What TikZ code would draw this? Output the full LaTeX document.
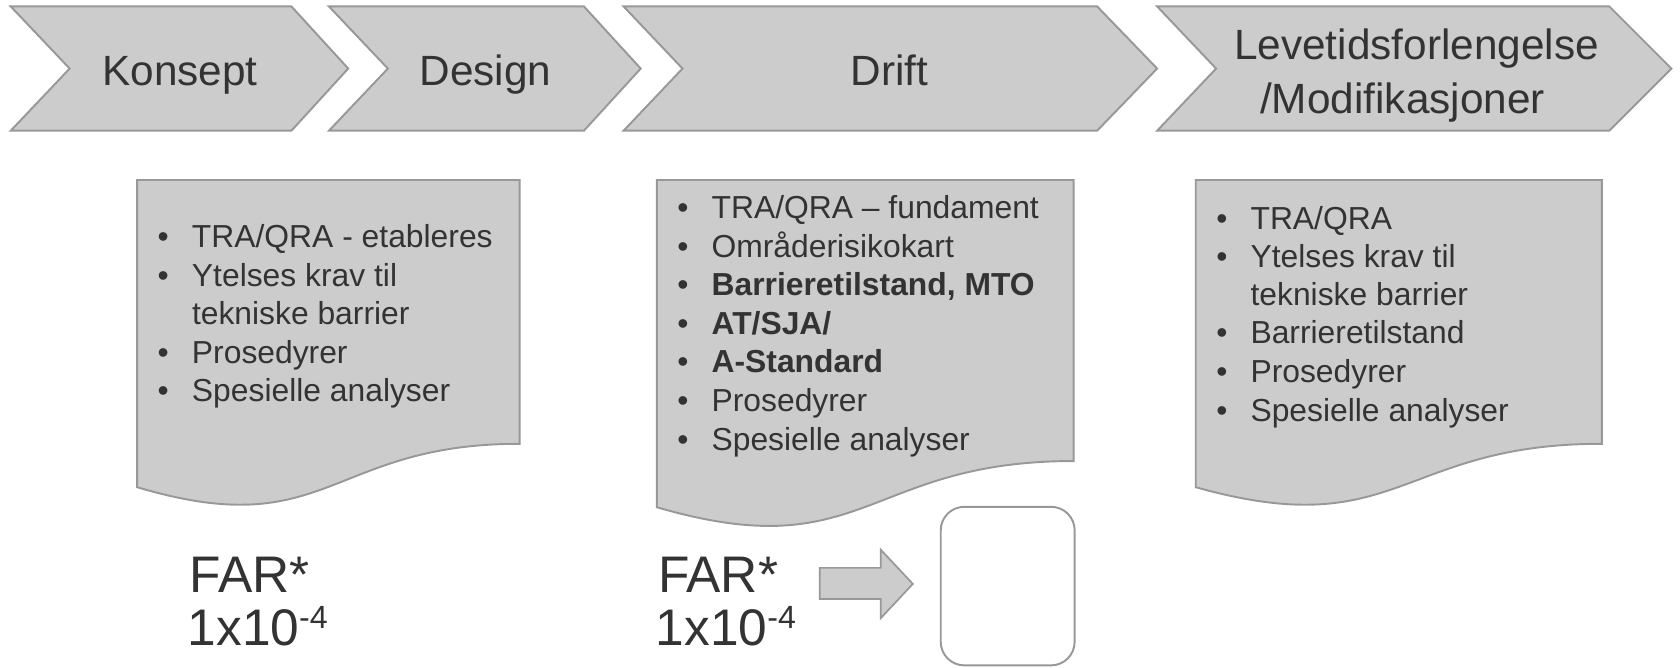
\documentclass[tikz,border=0pt]{standalone}
\usepackage{fontspec}
\setmainfont{Liberation Sans}
\definecolor{fillg}{RGB}{204,204,204}
\definecolor{lineg}{RGB}{152,152,152}
\definecolor{txt}{RGB}{51,51,51}
\newcommand\blt{\makebox[32pt][l]{\textbullet}}
\newcommand\ind{\hspace*{32pt}}
\newcommand\supfour{\raisebox{15pt}{\fontsize{30}{30}\selectfont -4}}
\begin{document}
\begin{tikzpicture}[x=1pt,y=-1pt,
  graybox/.style={fill=fillg,draw=lineg,line width=1.8pt,line join=miter},
  chev/.style={font=\fontsize{39.5}{47}\selectfont,text=txt,inner sep=0pt,anchor=base},
  li/.style={font=\fontsize{29.7}{36}\selectfont,text=txt,inner sep=0pt,anchor=base west},
  far/.style={font=\fontsize{48}{50}\selectfont,text=txt,inner sep=0pt,anchor=base west}]
\useasboundingbox (0,0) rectangle (1568,623);

% chevrons
\draw[graybox] (10,6) -- (272,6) -- (325,64) -- (272,122) -- (10,122) -- (65,64) -- cycle;
\draw[graybox] (307,6) -- (545,6) -- (598,64) -- (545,122) -- (307,122) -- (362,64) -- cycle;
\draw[graybox] (582,6) -- (1024,6) -- (1080,64) -- (1024,122) -- (582,122) -- (637,64) -- cycle;
\draw[graybox] (1080,6) -- (1502,6) -- (1560,64) -- (1502,122) -- (1080,122) -- (1135,64) -- cycle;

\node[chev] (t1) at (168,80) {Konsept};
\node[chev] (t2) at (453,80) {Design};
\node[chev] (t3) at (830,80) {Drift};
\node[chev] (t4a) at (1322,56) {Levetidsforlengelse};
\node[chev] (t4b) at (1309,106) {/Modifikasjoner};

% document boxes
\draw[graybox] (128,168) -- (485,168) -- (485,414.2)
  .. controls (306.5,414.2) and (306.5,508) .. (128,454.7) -- cycle;
\draw[graybox] (613,168) -- (1002,168) -- (1002,430.3)
  .. controls (807.5,430.3) and (807.5,530.2) .. (613,473.4) -- cycle;
\draw[graybox] (1116,168) -- (1495,168) -- (1495,414.2)
  .. controls (1305.5,414.2) and (1305.5,508) .. (1116,454.7) -- cycle;

% box 1 text
\node[li] (a1) at (147,231) {\blt TRA/QRA - etableres};
\node[li] (a2) at (147,267) {\blt Ytelses krav til};
\node[li] (a3) at (147,303) {\ind tekniske barrier};
\node[li] (a4) at (147,339) {\blt Prosedyrer};
\node[li] (a5) at (147,375) {\blt Spesielle analyser};

% box 2 text
\node[li] (b1) at (632,204) {\blt TRA/QRA – fundament};
\node[li] (b2) at (632,240) {\blt Områderisikokart};
\node[li] (b3) at (632,276) {\blt \textbf{Barrieretilstand, MTO}};
\node[li] (b4) at (632,312) {\blt \textbf{AT/SJA/}};
\node[li] (b5) at (632,348) {\blt \textbf{A-Standard}};
\node[li] (b6) at (632,384) {\blt Prosedyrer};
\node[li] (b7) at (632,420) {\blt Spesielle analyser};

% box 3 text
\node[li] (c1) at (1135,214) {\blt TRA/QRA};
\node[li] (c2) at (1135,250) {\blt Ytelses krav til};
\node[li] (c3) at (1135,285) {\ind tekniske barrier};
\node[li] (c4) at (1135,321) {\blt Barrieretilstand};
\node[li] (c5) at (1135,357) {\blt Prosedyrer};
\node[li] (c6) at (1135,393) {\blt Spesielle analyser};

% FAR texts
\node[far] (f1) at (177,553) {FAR*};
\node[far] (f1b) at (175,602) {1x10\supfour};
\node[far] (f2) at (614,553) {FAR*};
\node[far] (f2b) at (612,602) {1x10\supfour};

% block arrow and rounded box
\draw[graybox,line width=1.6pt] (765,530) -- (822,530) -- (822,513) -- (852,545)
  -- (822,577) -- (822,559) -- (765,559) -- cycle;
\draw[draw=lineg,line width=1.8pt,fill=white,rounded corners=22pt]
  (878,473) rectangle (1003,621);
\end{tikzpicture}
\end{document}
